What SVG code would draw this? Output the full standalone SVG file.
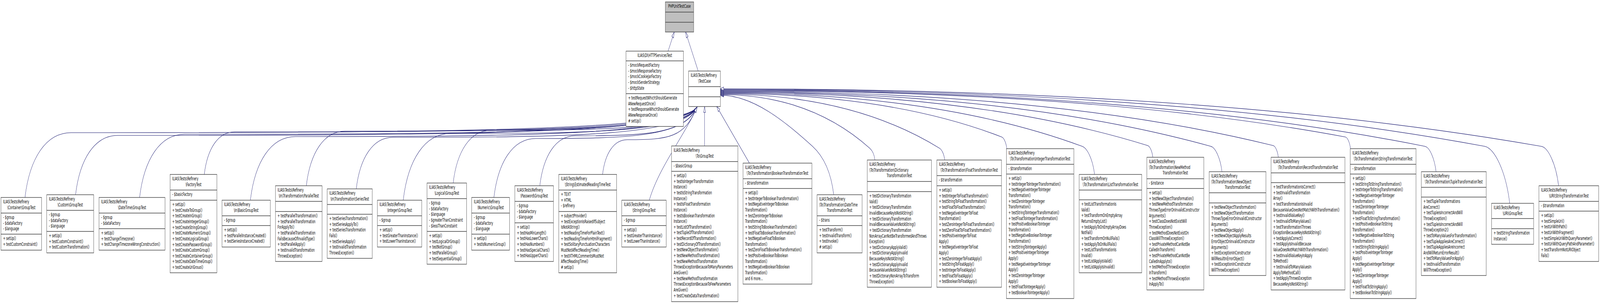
<svg xmlns="http://www.w3.org/2000/svg" width="7496" height="779" viewBox="0 0 7496 779" preserveAspectRatio="none" style="width:100vw;height:100vh;display:block">
<style>
text{font-family:"DejaVu Sans","Liberation Sans",sans-serif;font-size:12.5px;fill:#000}
.c{text-anchor:middle}
.n rect{fill:#fff;stroke:#404040;stroke-width:1.4}
.g rect{fill:#bfbfbf}
.n path{fill:none;stroke:#404040;stroke-width:1.4}
.e path{fill:none;stroke:#191970;stroke-width:1.2;marker-end:url(#a)}
</style>
<defs>
<marker id="a" markerWidth="18" markerHeight="12" refX="16" refY="6" orient="auto" markerUnits="userSpaceOnUse" viewBox="0 0 18 12"><path d="M1,1.5 L16,6 L1,10.5 Z" fill="#fff" stroke="#191970" stroke-width="1.2"/></marker>
</defs>
<rect x="0" y="0" width="7496" height="779" fill="#fff"/>
<g id="edges" class="e">
<path d="M3130,131 L3159,82"/>
<path d="M3271,182 L3212,82"/>
<path d="M117,506 C138.6,406.4 214.2,340 333,340 C2093,340 3206,335 3266,274"/>
<path d="M354,499 C373.8,407.8 443.1,347 552,347 C2180,347 3206,342 3266,274"/>
<path d="M654,506 C675.1,408.8 749,344 865,344 C2306,344 3206,339 3266,274"/>
<path d="M957,447 C971.2,381.6 1020.9,338 1099,338 C2399,338 3206,333 3266,274"/>
<path d="M1173,513 C1194.2,415.2 1268.4,350 1385,350 C2514,350 3206,345 3266,274"/>
<path d="M1435,476 C1453.2,392 1516.9,336 1617,336 C2606,336 3206,331 3266,274"/>
<path d="M1669,484 C1686.2,404.8 1746.4,352 1841,352 C2696,352 3206,347 3266,274"/>
<path d="M1889,513 C1911.2,410.4 1988.9,342 2111,342 C2804,342 3206,337 3266,274"/>
<path d="M2123,469 C2140.6,388 2202.2,334 2299,334 C2879,334 3206,329 3266,274"/>
<path d="M2314,506 C2333.6,415.4 2402.2,355 2510,355 C2964,355 3206,350 3266,274"/>
<path d="M2529,476 C2545.6,399.2 2603.7,348 2695,348 C3038,348 3206,343 3266,274"/>
<path d="M2823,447 C2834.6,393.6 2875.2,358 2939,358 C3135,358 3206,353 3266,274"/>
<path d="M3042,513 C3085,430 3215,340 3266,274"/>
<path d="M3301,374 L3301,273"/>
<path d="M3511,418 L3358,273"/>
<path d="M3906,499 C3891.1,430.8 3846.5,394.8 3806.8,375 C3677.3,310.2 3526.1,244 3375,244"/>
<path d="M4099,410 C4095.4,393.5 4084.6,384.7 4075,380 C3865,277 3620,242.5 3375,242.5"/>
<path d="M4426,410 C4422.4,393.5 4411.6,383.2 4402,380 C4093.9,275.9 3734.5,241 3375,241"/>
<path d="M4717,381 C4713.4,364.5 4702.6,353 4693,351 C4297.6,267.4 3836.3,239.5 3375,239.5"/>
<path d="M5128,447 C5119.4,407.4 5093.4,379.7 5070.4,375 C4561.8,272.3 3968.4,238 3375,238"/>
<path d="M5401,403 C5397.4,386.5 5386.6,374.6 5377,373 C4776.4,270.9 4075.7,236.5 3375,236.5"/>
<path d="M5725,440 C5717.2,404.25 5693.8,378.2 5673,375 C4983.6,270.2 4179.3,235 3375,235"/>
<path d="M5989,403 C5985.4,386.5 5974.6,374.3 5965,373 C5188,268.3 4281.5,233.5 3375,233.5"/>
<path d="M6327,381 C6323.4,364.5 6312.6,352 6303,351 C5424.6,261.8 4399.8,232 3375,232"/>
<path d="M6728,440 C6720.2,404.25 6696.8,377.3 6676,375 C5685.7,266.7 4530.4,230.5 3375,230.5"/>
<path d="M7073,521 C7055.5,440.7 7002.9,379.8 6956.2,375 C5881.8,265.5 4628.4,229 3375,229"/>
<path d="M7302,476 C7289.9,420.45 7253.5,378.1 7221.2,375 C6067.3,264.4 4721.2,227.5 3375,227.5"/>
</g>

<g id="phpunit" class="n g"><rect x="3117" y="5" width="133" height="77"/><path d="M3117 31H3250M3117 57H3250"/>
<text class="c" x="3183.5" y="20">PHPUnitTestCase</text></g>

<g id="httpservicestest" class="n"><rect x="2933" y="131" width="269" height="193"/><path d="M2933 156H3202M2933 240H3202"/>
<text class="c" x="3067.5" y="146">ILIAS\DI\HTTPServicesTest</text>
<text x="2943" y="171">- $mockRequestFactory<tspan x="2943" dy="14.65">- $mockResponseFactory</tspan><tspan x="2943" dy="14.65">- $mockCookieJarFactory</tspan><tspan x="2943" dy="14.65">- $mockSenderStrategy</tspan><tspan x="2943" dy="14.65">- $httpState</tspan></text>
<text x="2943" y="255">+ testRequestWhichShouldGenerate<tspan x="2943" dy="14.65">ANewRequestOnce()</tspan><tspan x="2943" dy="14.65">+ testResponseWhichShouldGenerate</tspan><tspan x="2943" dy="14.65">ANewResponseOnce()</tspan><tspan x="2943" dy="14.65"># setUp()</tspan></text></g>

<g id="testcase" class="n"><rect x="3226" y="182" width="149" height="91"/><path d="M3226 222H3375M3226 248H3375"/>
<text x="3236" y="197">ILIAS\Tests\Refinery</text><text class="c" x="3300.5" y="211.65">\TestCase</text></g>

<g id="n1" class="n"><rect x="4.5" y="506" width="190.5" height="135"/><path d="M4.5 546H195M4.5 600H195"/>
<text x="14.5" y="521">ILIAS\Tests\Refinery</text><text class="c" x="99.75" y="535.65">\Container\GroupTest</text>
<text x="14.5" y="561">- $group<tspan x="14.5" dy="14.65">- $dataFactory</tspan><tspan x="14.5" dy="14.65">- $language</tspan></text>
<text x="14.5" y="615">+ setUp()<tspan x="14.5" dy="14.65">+ testCustomConstraint()</tspan></text></g>

<g id="n2" class="n"><rect x="219" y="499" width="220" height="149"/><path d="M219 539H439M219 593H439"/>
<text x="229" y="514">ILIAS\Tests\Refinery</text><text class="c" x="329" y="528.65">\Custom\GroupTest</text>
<text x="229" y="554">- $group<tspan x="229" dy="14.65">- $dataFactory</tspan><tspan x="229" dy="14.65">- $language</tspan></text>
<text x="229" y="608">+ setUp()<tspan x="229" dy="14.65">+ testCustomConstraint()</tspan><tspan x="229" dy="14.65">+ testCustomTransformation()</tspan></text></g>

<g id="n3" class="n"><rect x="464" y="506" width="309" height="135"/><path d="M464 546H773M464 586H773"/>
<text x="474" y="521">ILIAS\Tests\Refinery</text><text class="c" x="618.5" y="535.65">\DateTime\GroupTest</text>
<text x="474" y="561">- $group<tspan x="474" dy="14.65">- $dataFactory</tspan></text>
<text x="474" y="601">+ setUp()<tspan x="474" dy="14.65">+ testChangeTimezone()</tspan><tspan x="474" dy="14.65">+ testChangeTimezoneWrongConstruction()</tspan></text></g>

<g id="n4" class="n"><rect x="797" y="447" width="219" height="252"/><path d="M797 487H1016M797 513H1016"/>
<text x="807" y="462">ILIAS\Tests\Refinery</text><text class="c" x="906.5" y="476.65">\FactoryTest</text>
<text x="807" y="502">- $basicFactory</text>
<text x="807" y="528">+ setUp()<tspan x="807" dy="14.65">+ testCreateToGroup()</tspan><tspan x="807" dy="14.65">+ testCreateInGroup()</tspan><tspan x="807" dy="14.65">+ testCreateIntegerGroup()</tspan><tspan x="807" dy="14.65">+ testCreateStringGroup()</tspan><tspan x="807" dy="14.65">+ testCreateNumericGroup()</tspan><tspan x="807" dy="14.65">+ testCreateLogicalGroup()</tspan><tspan x="807" dy="14.65">+ testCreatePasswordGroup()</tspan><tspan x="807" dy="14.65">+ testCreateCustomGroup()</tspan><tspan x="807" dy="14.65">+ testCreateContainerGroup()</tspan><tspan x="807" dy="14.65">+ testCreateDateTimeGroup()</tspan><tspan x="807" dy="14.65">+ testCreateUriGrouo()</tspan></text></g>

<g id="n5" class="n"><rect x="1040" y="513" width="226.5" height="120"/><path d="M1040 553H1266.5M1040 578H1266.5"/>
<text x="1050" y="528">ILIAS\Tests\Refinery</text><text class="c" x="1153.25" y="542.65">\In\BasicGroupTest</text>
<text x="1050" y="568">- $group</text>
<text x="1050" y="593">+ setUp()<tspan x="1050" dy="14.65">+ testParallelInstanceCreated()</tspan><tspan x="1050" dy="14.65">+ testSeriesInstanceCreated()</tspan></text></g>

<g id="n6" class="n"><rect x="1290.5" y="476" width="218.5" height="194"/><path d="M1290.5 516H1509M1290.5 542H1509"/>
<text x="1300.5" y="491">ILIAS\Tests\Refinery</text><text class="c" x="1399.75" y="505.65">\In\Transformation\ParallelTest</text>
<text x="1300.5" y="557">+ testParallelTransformation()<tspan x="1300.5" dy="14.65">+ testParallelTransformation</tspan><tspan x="1300.5" dy="14.65">ForApplyTo()</tspan><tspan x="1300.5" dy="14.65">+ testParallelTransformation</tspan><tspan x="1300.5" dy="14.65">FailsBecauseOfInvalidType()</tspan><tspan x="1300.5" dy="14.65">+ testParallelApply()</tspan><tspan x="1300.5" dy="14.65">+ testInvalidTransformation</tspan><tspan x="1300.5" dy="14.65">ThrowsException()</tspan></text></g>

<g id="n7" class="n"><rect x="1533" y="484" width="211" height="178"/><path d="M1533 524H1744M1533 549H1744"/>
<text x="1543" y="499">ILIAS\Tests\Refinery</text><text class="c" x="1638.5" y="513.65">\In\Transformation\SeriesTest</text>
<text x="1543" y="564">+ testSeriesTransformation()<tspan x="1543" dy="14.65">+ testSeriesApplyTo()</tspan><tspan x="1543" dy="14.65">+ testSeriesTransformation</tspan><tspan x="1543" dy="14.65">Fails()</tspan><tspan x="1543" dy="14.65">+ testSeriesApply()</tspan><tspan x="1543" dy="14.65">+ testInvalidTransformation</tspan><tspan x="1543" dy="14.65">ThrowsException()</tspan></text></g>

<g id="n8" class="n"><rect x="1768" y="513" width="208" height="120"/><path d="M1768 553H1976M1768 578H1976"/>
<text x="1778" y="528">ILIAS\Tests\Refinery</text><text class="c" x="1872" y="542.65">\Integer\GroupTest</text>
<text x="1778" y="568">- $group</text>
<text x="1778" y="593">+ setUp()<tspan x="1778" dy="14.65">+ testGreaterThanInstance()</tspan><tspan x="1778" dy="14.65">+ testLowerThanInstance()</tspan></text></g>

<g id="n9" class="n"><rect x="2000.5" y="469" width="185.5" height="208"/><path d="M2000.5 509H2186M2000.5 593H2186"/>
<text x="2010.5" y="484">ILIAS\Tests\Refinery</text><text class="c" x="2093.25" y="498.65">\Logical\GroupTest</text>
<text x="2010.5" y="524">- $group<tspan x="2010.5" dy="14.65">- $dataFactory</tspan><tspan x="2010.5" dy="14.65">- $language</tspan><tspan x="2010.5" dy="14.65">- $greaterThanConstraint</tspan><tspan x="2010.5" dy="14.65">- $lessThanConstaint</tspan></text>
<text x="2010.5" y="608">+ setUp()<tspan x="2010.5" dy="14.65">+ testLogicalOrGroup()</tspan><tspan x="2010.5" dy="14.65">+ testNotGroup()</tspan><tspan x="2010.5" dy="14.65">+ testParallelGroup()</tspan><tspan x="2010.5" dy="14.65">+ testSequentialGroup()</tspan></text></g>

<g id="n10" class="n"><rect x="2210" y="506" width="177" height="135"/><path d="M2210 546H2387M2210 600H2387"/>
<text x="2220" y="521">ILIAS\Tests\Refinery</text><text class="c" x="2298.5" y="535.65">\Numeric\GroupTest</text>
<text x="2220" y="561">- $group<tspan x="2220" dy="14.65">- $dataFactory</tspan><tspan x="2220" dy="14.65">- $language</tspan></text>
<text x="2220" y="615">+ setUp()<tspan x="2220" dy="14.65">+ testIsNumericGroup()</tspan></text></g>

<g id="n11" class="n"><rect x="2412" y="476" width="181" height="194"/><path d="M2412 516H2593M2412 571H2593"/>
<text x="2422" y="491">ILIAS\Tests\Refinery</text><text class="c" x="2502.5" y="505.65">\Password\GroupTest</text>
<text x="2422" y="531">- $group<tspan x="2422" dy="14.65">- $dataFactory</tspan><tspan x="2422" dy="14.65">- $language</tspan></text>
<text x="2422" y="586">+ setUp()<tspan x="2422" dy="14.65">+ testHasMinLength()</tspan><tspan x="2422" dy="14.65">+ testHasLowerChars()</tspan><tspan x="2422" dy="14.65">+ testHasNumbers()</tspan><tspan x="2422" dy="14.65">+ testHasSpecialChars()</tspan><tspan x="2422" dy="14.65">+ testHasUpperChars()</tspan></text></g>

<g id="n12" class="n"><rect x="2618" y="447" width="271" height="252"/><path d="M2618 487H2889M2618 542H2889"/>
<text x="2628" y="462">ILIAS\Tests\Refinery</text><text class="c" x="2753.5" y="476.65">\String\EstimatedReadingTimeTest</text>
<text x="2628" y="502">+ TEXT<tspan x="2628" dy="14.65">+ HTML</tspan><tspan x="2628" dy="14.65">- $refinery</tspan></text>
<text x="2628" y="557">+ subjectProvider()<tspan x="2628" dy="14.65">+ testExceptionIsRaisedIfSubject</tspan><tspan x="2628" dy="14.65">IsNotAString()</tspan><tspan x="2628" dy="14.65">+ testReadingTimeForPlainText()</tspan><tspan x="2628" dy="14.65">+ testReadingTimeForHtmlFragment()</tspan><tspan x="2628" dy="14.65">+ testSolitaryPunctuationCharacters</tspan><tspan x="2628" dy="14.65">MustNotAffectReadingTime()</tspan><tspan x="2628" dy="14.65">+ testXTHMLCommentsMustNot</tspan><tspan x="2628" dy="14.65">AffectReadingTime()</tspan><tspan x="2628" dy="14.65"># setUp()</tspan></text></g>

<g id="n13" class="n"><rect x="2913" y="513" width="208" height="120"/><path d="M2913 553H3121M2913 578H3121"/>
<text x="2923" y="528">ILIAS\Tests\Refinery</text><text class="c" x="3017" y="542.65">\String\GroupTest</text>
<text x="2923" y="568">- $group</text>
<text x="2923" y="593">+ setUp()<tspan x="2923" dy="14.65">+ testGreaterThanInstance()</tspan><tspan x="2923" dy="14.65">+ testLowerThanInstance()</tspan></text></g>

<g id="n14" class="n"><rect x="3146" y="374" width="311" height="399"/><path d="M3146 414H3457M3146 439H3457"/>
<text x="3156" y="389">ILIAS\Tests\Refinery</text><text class="c" x="3301.5" y="403.65">\To\GroupTest</text>
<text x="3156" y="429">- $basicGroup</text>
<text x="3156" y="454">+ setUp()<tspan x="3156" dy="14.65">+ testIsIntegerTransformation</tspan><tspan x="3156" dy="14.65">Instance()</tspan><tspan x="3156" dy="14.65">+ testIsStringTransformation</tspan><tspan x="3156" dy="14.65">Instance()</tspan><tspan x="3156" dy="14.65">+ testIsFloatTransformation</tspan><tspan x="3156" dy="14.65">Instance()</tspan><tspan x="3156" dy="14.65">+ testIsBooleanTransformation</tspan><tspan x="3156" dy="14.65">Instance()</tspan><tspan x="3156" dy="14.65">+ testListOfTransformation()</tspan><tspan x="3156" dy="14.65">+ testTupleOfTransformation()</tspan><tspan x="3156" dy="14.65">+ testRecordOfTransformation()</tspan><tspan x="3156" dy="14.65">+ testDictionaryOfTransformation()</tspan><tspan x="3156" dy="14.65">+ testNewObjectTransformation()</tspan><tspan x="3156" dy="14.65">+ testNewMethodTransformation()</tspan><tspan x="3156" dy="14.65">+ testNewMethodTransformation</tspan><tspan x="3156" dy="14.65">ThrowsExceptionBecauseToManyParameters</tspan><tspan x="3156" dy="14.65">AreGiven()</tspan><tspan x="3156" dy="14.65">+ testNewMethodTransformation</tspan><tspan x="3156" dy="14.65">ThrowsExceptionBecauseToFewParameters</tspan><tspan x="3156" dy="14.65">AreGiven()</tspan><tspan x="3156" dy="14.65">+ testCreateDataTransformation()</tspan></text></g>

<g id="n15" class="n"><rect x="3481" y="418" width="323" height="310"/><path d="M3481 458H3804M3481 483H3804"/>
<text x="3491" y="433">ILIAS\Tests\Refinery</text><text class="c" x="3642.5" y="447.65">\To\Transformation\BooleanTransformationTest</text>
<text x="3491" y="473">- $transformation</text>
<text x="3491" y="498">+ setUp()<tspan x="3491" dy="14.65">+ testIntegerToBooleanTransformation()</tspan><tspan x="3491" dy="14.65">+ testNegativeIntegerToBoolean</tspan><tspan x="3491" dy="14.65">Transformation()</tspan><tspan x="3491" dy="14.65">+ testZeroIntegerToBoolean</tspan><tspan x="3491" dy="14.65">Transformation()</tspan><tspan x="3491" dy="14.65">+ testStringToBooleanTransformation()</tspan><tspan x="3491" dy="14.65">+ testFloatToBooleanTransformation()</tspan><tspan x="3491" dy="14.65">+ testNegativeFloatToBoolean</tspan><tspan x="3491" dy="14.65">Transformation()</tspan><tspan x="3491" dy="14.65">+ testZeroFloatToBooleanTransformation()</tspan><tspan x="3491" dy="14.65">+ testPositiveBooleanToBoolean</tspan><tspan x="3491" dy="14.65">Transformation()</tspan><tspan x="3491" dy="14.65">+ testNegativeBooleanToBoolean</tspan><tspan x="3491" dy="14.65">Transformation()</tspan><tspan x="3491" dy="14.65">and 6 more...</tspan></text></g>

<g id="n16" class="n"><rect x="3828" y="499" width="211" height="149"/><path d="M3828 553H4039M3828 578H4039"/>
<text x="3838" y="514">ILIAS\Tests\Refinery<tspan x="3838" dy="14.65">\To\Transformation\DateTime</tspan></text><text class="c" x="3933.5" y="543.3">TransformationTest</text>
<text x="3838" y="568">- $trans</text>
<text x="3838" y="593">+ testTransform()<tspan x="3838" dy="14.65">+ testInvalidTransform()</tspan><tspan x="3838" dy="14.65">+ testInvoke()</tspan><tspan x="3838" dy="14.65"># setUp()</tspan></text></g>

<g id="n17" class="n"><rect x="4063" y="410" width="301" height="326"/><path d="M4063 465H4364M4063 491H4364"/>
<text x="4073" y="425">ILIAS\Tests\Refinery<tspan x="4073" dy="14.65">\To\Transformation\Dictionary</tspan></text><text class="c" x="4213.5" y="454.3">TransformationTest</text>
<text x="4073" y="506">+ testDictionaryTransformation<tspan x="4073" dy="14.65">Valid()</tspan><tspan x="4073" dy="14.65">+ testDictionaryTransformation</tspan><tspan x="4073" dy="14.65">InvalidBecauseKeyIsNotAString()</tspan><tspan x="4073" dy="14.65">+ testDictionaryTransformation</tspan><tspan x="4073" dy="14.65">InvalidBecauseValueIsNotAString()</tspan><tspan x="4073" dy="14.65">+ testDictionaryTransformation</tspan><tspan x="4073" dy="14.65">NonArrayCanNotBeTransformedAndThrows</tspan><tspan x="4073" dy="14.65">Exception()</tspan><tspan x="4073" dy="14.65">+ testDictionaryApplyValid()</tspan><tspan x="4073" dy="14.65">+ testDictionaryApplyInvalid</tspan><tspan x="4073" dy="14.65">BecauseKeyIsNotAString()</tspan><tspan x="4073" dy="14.65">+ testDictionaryApplyInvalid</tspan><tspan x="4073" dy="14.65">BecauseValueIsNotAString()</tspan><tspan x="4073" dy="14.65">+ testDictonaryNonArrayToTransform</tspan><tspan x="4073" dy="14.65">ThrowsException()</tspan></text></g>

<g id="n18" class="n"><rect x="4389" y="410" width="303" height="326"/><path d="M4389 450H4692M4389 476H4692"/>
<text x="4399" y="425">ILIAS\Tests\Refinery</text><text class="c" x="4540.5" y="439.65">\To\Transformation\FloatTransformationTest</text>
<text x="4399" y="465">- $transformation</text>
<text x="4399" y="491">+ setUp()<tspan x="4399" dy="14.65">+ testIntegerToFloatTransformation()</tspan><tspan x="4399" dy="14.65">+ testStringToFloatTransformation()</tspan><tspan x="4399" dy="14.65">+ testFloatToFloatTransformation()</tspan><tspan x="4399" dy="14.65">+ testNegativeIntegerToFloat</tspan><tspan x="4399" dy="14.65">Transformation()</tspan><tspan x="4399" dy="14.65">+ testZeroIntegerToFloatTransformation()</tspan><tspan x="4399" dy="14.65">+ testZeroFloatToFloatTransformation()</tspan><tspan x="4399" dy="14.65">+ testPositiveIntegerToFloat</tspan><tspan x="4399" dy="14.65">Apply()</tspan><tspan x="4399" dy="14.65">+ testNegativeIntegerToFloat</tspan><tspan x="4399" dy="14.65">Apply()</tspan><tspan x="4399" dy="14.65">+ testZeroIntegerToFloatApply()</tspan><tspan x="4399" dy="14.65">+ testStringToFloatApply()</tspan><tspan x="4399" dy="14.65">+ testIntegerToFloatApply()</tspan><tspan x="4399" dy="14.65">+ testFloatToFloatApply()</tspan><tspan x="4399" dy="14.65">+ testBooleanToFloatApply()</tspan></text></g>

<g id="n19" class="n"><rect x="4715" y="381" width="316" height="384"/><path d="M4715 421H5031M4715 446H5031"/>
<text x="4725" y="396">ILIAS\Tests\Refinery</text><text class="c" x="4873" y="410.65">\To\Transformation\IntegerTransformationTest</text>
<text x="4725" y="436">- $transformation</text>
<text x="4725" y="461">+ setUp()<tspan x="4725" dy="14.65">+ testIntegerToIntegerTransformation()</tspan><tspan x="4725" dy="14.65">+ testNegativeIntegerToInteger</tspan><tspan x="4725" dy="14.65">Transformation()</tspan><tspan x="4725" dy="14.65">+ testZeroIntegerToInteger</tspan><tspan x="4725" dy="14.65">Transformation()</tspan><tspan x="4725" dy="14.65">+ testStringToIntegerTransformation()</tspan><tspan x="4725" dy="14.65">+ testFloatToIntegerTransformation()</tspan><tspan x="4725" dy="14.65">+ testPositiveBooleanToInteger</tspan><tspan x="4725" dy="14.65">Transformation()</tspan><tspan x="4725" dy="14.65">+ testNegativeBooleanToInteger</tspan><tspan x="4725" dy="14.65">Transformation()</tspan><tspan x="4725" dy="14.65">+ testStringToIntegerApply()</tspan><tspan x="4725" dy="14.65">+ testPositiveIntegerToInteger</tspan><tspan x="4725" dy="14.65">Apply()</tspan><tspan x="4725" dy="14.65">+ testNegativeIntegerToInteger</tspan><tspan x="4725" dy="14.65">Apply()</tspan><tspan x="4725" dy="14.65">+ testZeroIntegerToInteger</tspan><tspan x="4725" dy="14.65">Apply()</tspan><tspan x="4725" dy="14.65">+ testFloatToIntegerApply()</tspan><tspan x="4725" dy="14.65">+ testBooleanToIntegerApply()</tspan></text></g>

<g id="n20" class="n"><rect x="5056" y="447" width="293" height="252"/><path d="M5056 487H5349M5056 512H5349"/>
<text x="5066" y="462">ILIAS\Tests\Refinery</text><text class="c" x="5202.5" y="476.65">\To\Transformation\ListTransformationTest</text>
<text x="5066" y="527">+ testListTransformationIs<tspan x="5066" dy="14.65">Valid()</tspan><tspan x="5066" dy="14.65">+ testTransformOnEmptyArray</tspan><tspan x="5066" dy="14.65">ReturnsEmptyList()</tspan><tspan x="5066" dy="14.65">+ testApplyToOnEmptyArrayDoes</tspan><tspan x="5066" dy="14.65">NotFail()</tspan><tspan x="5066" dy="14.65">+ testTransformOnNullFails()</tspan><tspan x="5066" dy="14.65">+ testApplyToOnNullFails()</tspan><tspan x="5066" dy="14.65">+ testListTransformationIs</tspan><tspan x="5066" dy="14.65">Invalid()</tspan><tspan x="5066" dy="14.65">+ testListApplyIsValid()</tspan><tspan x="5066" dy="14.65">+ testListApplyIsInvalid()</tspan></text></g>

<g id="n21" class="n"><rect x="5373" y="403" width="267" height="340"/><path d="M5373 458H5640M5373 483H5640"/>
<text x="5383" y="418">ILIAS\Tests\Refinery<tspan x="5383" dy="14.65">\To\Transformation\NewMethod</tspan></text><text class="c" x="5506.5" y="447.3">TransformationTest</text>
<text x="5383" y="473">- $instance</text>
<text x="5383" y="498">+ setUp()<tspan x="5383" dy="14.65">+ testNewObjectTransformation()</tspan><tspan x="5383" dy="14.65">+ testNewMethodTransformation</tspan><tspan x="5383" dy="14.65">ThrowsTypeErrorOnInvalidConstructor</tspan><tspan x="5383" dy="14.65">Arguments()</tspan><tspan x="5383" dy="14.65">+ testClassDoesNotExistWill</tspan><tspan x="5383" dy="14.65">ThrowException()</tspan><tspan x="5383" dy="14.65">+ testMethodDoesNotExistOn</tspan><tspan x="5383" dy="14.65">ClassWillThrowException()</tspan><tspan x="5383" dy="14.65">+ testPrivateMethodCanNotBe</tspan><tspan x="5383" dy="14.65">CalledInTransform()</tspan><tspan x="5383" dy="14.65">+ testPrivateMethodCanNotBe</tspan><tspan x="5383" dy="14.65">CalledInApplyto()</tspan><tspan x="5383" dy="14.65">+ testMethodThrowsException</tspan><tspan x="5383" dy="14.65">InTransform()</tspan><tspan x="5383" dy="14.65">+ testMethodThrowsException</tspan><tspan x="5383" dy="14.65">InApplyTo()</tspan></text></g>

<g id="n22" class="n"><rect x="5665" y="440" width="266" height="266"/><path d="M5665 494H5931M5665 520H5931"/>
<text x="5675" y="455">ILIAS\Tests\Refinery<tspan x="5675" dy="14.65">\To\Transformation\NewObject</tspan></text><text class="c" x="5798" y="484.3">TransformationTest</text>
<text x="5675" y="535">+ testNewObjectTransformation()<tspan x="5675" dy="14.65">+ testNewObjectTransformation</tspan><tspan x="5675" dy="14.65">ThrowsTypeErrorOnInvalidConstructor</tspan><tspan x="5675" dy="14.65">Arguments()</tspan><tspan x="5675" dy="14.65">+ testNewObjectApply()</tspan><tspan x="5675" dy="14.65">+ testNewObjectApplyResults</tspan><tspan x="5675" dy="14.65">ErrorObjectOnInvalidConstructor</tspan><tspan x="5675" dy="14.65">Arguments()</tspan><tspan x="5675" dy="14.65">+ testExceptionInConstructor</tspan><tspan x="5675" dy="14.65">WillResultInErrorObject()</tspan><tspan x="5675" dy="14.65">+ testExceptionInConstructor</tspan><tspan x="5675" dy="14.65">WillThrowException()</tspan></text></g>

<g id="n23" class="n"><rect x="5955" y="403" width="346" height="340"/><path d="M5955 443H6301M5955 468H6301"/>
<text x="5965" y="418">ILIAS\Tests\Refinery</text><text class="c" x="6128" y="432.65">\To\Transformation\RecordTransformationTest</text>
<text x="5965" y="483">+ testTransformationIsCorrect()<tspan x="5965" dy="14.65">+ testInvalidTransformation</tspan><tspan x="5965" dy="14.65">Array()</tspan><tspan x="5965" dy="14.65">+ testTransformationIsInvalid</tspan><tspan x="5965" dy="14.65">BecauseValueDoesNotMatchWithTransformation()</tspan><tspan x="5965" dy="14.65">+ testInvalidValueKey()</tspan><tspan x="5965" dy="14.65">+ testInvalidToManyValues()</tspan><tspan x="5965" dy="14.65">+ testTransformationThrows</tspan><tspan x="5965" dy="14.65">ExceptionBecauseKeyIsNotAString()</tspan><tspan x="5965" dy="14.65">+ testApplyIsCorrect()</tspan><tspan x="5965" dy="14.65">+ testApplyIsInvalidBecause</tspan><tspan x="5965" dy="14.65">ValueDoesNotMatchWithTransformation()</tspan><tspan x="5965" dy="14.65">+ testInvalidValueKeyInApply</tspan><tspan x="5965" dy="14.65">ToMethod()</tspan><tspan x="5965" dy="14.65">+ testInvalidToManyValuesIn</tspan><tspan x="5965" dy="14.65">ApplyToMethodCall()</tspan><tspan x="5965" dy="14.65">+ testApplyThrowsException</tspan><tspan x="5965" dy="14.65">BecauseKeyIsNotAString()</tspan></text></g>

<g id="n24" class="n"><rect x="6326" y="381" width="308" height="384"/><path d="M6326 421H6634M6326 446H6634"/>
<text x="6336" y="396">ILIAS\Tests\Refinery</text><text class="c" x="6480" y="410.65">\To\Transformation\StringTransformationTest</text>
<text x="6336" y="436">- $transformation</text>
<text x="6336" y="461">+ setUp()<tspan x="6336" dy="14.65">+ testStringToStringTransformation()</tspan><tspan x="6336" dy="14.65">+ testIntegerToStringTransformation()</tspan><tspan x="6336" dy="14.65">+ testNegativeIntegerToInteger</tspan><tspan x="6336" dy="14.65">Transformation()</tspan><tspan x="6336" dy="14.65">+ testZeroIntegerToInteger</tspan><tspan x="6336" dy="14.65">Transformation()</tspan><tspan x="6336" dy="14.65">+ testFloatToStringTransformation()</tspan><tspan x="6336" dy="14.65">+ testPositiveBooleanToString</tspan><tspan x="6336" dy="14.65">Transformation()</tspan><tspan x="6336" dy="14.65">+ testNegativeBooleanToString</tspan><tspan x="6336" dy="14.65">Transformation()</tspan><tspan x="6336" dy="14.65">+ testStringToStringApply()</tspan><tspan x="6336" dy="14.65">+ testPositiveIntegerToInteger</tspan><tspan x="6336" dy="14.65">Apply()</tspan><tspan x="6336" dy="14.65">+ testNegativeIntegerToInteger</tspan><tspan x="6336" dy="14.65">Apply()</tspan><tspan x="6336" dy="14.65">+ testZeroIntegerToInteger</tspan><tspan x="6336" dy="14.65">Apply()</tspan><tspan x="6336" dy="14.65">+ testFloatToStringApply()</tspan><tspan x="6336" dy="14.65">+ testBooleanToStringApply()</tspan></text></g>

<g id="n25" class="n"><rect x="6659" y="440" width="304" height="266"/><path d="M6659 480H6963M6659 505H6963"/>
<text x="6669" y="455">ILIAS\Tests\Refinery</text><text class="c" x="6811" y="469.65">\To\Transformation\TupleTransformationTest</text>
<text x="6669" y="520">+ testTupleTransformations<tspan x="6669" dy="14.65">AreCorrect()</tspan><tspan x="6669" dy="14.65">+ testTupleIsIncorrectAndWill</tspan><tspan x="6669" dy="14.65">ThrowException()</tspan><tspan x="6669" dy="14.65">+ testTupleIsIncorrectAndWill</tspan><tspan x="6669" dy="14.65">ThrowException2()</tspan><tspan x="6669" dy="14.65">+ testToManyValuesForTransformation()</tspan><tspan x="6669" dy="14.65">+ testTupleAppliesAreCorrect()</tspan><tspan x="6669" dy="14.65">+ testTupleAppliesAreIncorrect</tspan><tspan x="6669" dy="14.65">AndWillReturnErrorResult()</tspan><tspan x="6669" dy="14.65">+ testToManyValuesForApply()</tspan><tspan x="6669" dy="14.65">+ testInvalidTransformation</tspan><tspan x="6669" dy="14.65">WillThrowException()</tspan></text></g>

<g id="n26" class="n"><rect x="6988" y="521" width="197" height="105"/><path d="M6988 560H7185M6988 586H7185"/>
<text x="6998" y="536">ILIAS\Tests\Refinery</text><text class="c" x="7086.5" y="550.65">\URI\GroupTest</text>
<text x="6998" y="601">+ testStringTransformation<tspan x="6998" dy="14.65">Instance()</tspan></text></g>

<g id="n27" class="n"><rect x="7210" y="476" width="280" height="194"/><path d="M7210 516H7490M7210 541H7490"/>
<text x="7220" y="491">ILIAS\Tests\Refinery</text><text class="c" x="7350" y="505.65">\URI\StringTransformationTest</text>
<text x="7220" y="531">- $transformation</text>
<text x="7220" y="556">+ setUp()<tspan x="7220" dy="14.65">+ testSimpleUri()</tspan><tspan x="7220" dy="14.65">+ testUriWithPath()</tspan><tspan x="7220" dy="14.65">+ testUriWithFragment()</tspan><tspan x="7220" dy="14.65">+ testSimpleUriWithQueryParameter()</tspan><tspan x="7220" dy="14.65">+ testUriWithQueryPathAndParameter()</tspan><tspan x="7220" dy="14.65">+ testTransformNotURIObject</tspan><tspan x="7220" dy="14.65">Fails()</tspan></text></g>
</svg>
